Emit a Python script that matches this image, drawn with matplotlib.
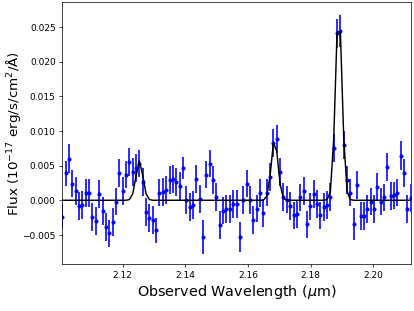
import matplotlib
matplotlib.use("Agg")
import matplotlib.pyplot as plt

wavelength = [
    2.10081, 2.10188, 2.10295, 2.10401, 2.10508, 2.10615, 2.10722, 2.10829, 2.10935, 2.11042,
    2.11149, 2.11256, 2.11363, 2.11469, 2.11576, 2.11683, 2.11790, 2.11897, 2.12003, 2.12110,
    2.12217, 2.12324, 2.12431, 2.12537, 2.12644, 2.12751, 2.12858, 2.12965, 2.13071, 2.13178,
    2.13285, 2.13392, 2.13499, 2.13605, 2.13712, 2.13819, 2.13926, 2.14033, 2.14139, 2.14246,
    2.14353, 2.14460, 2.14567, 2.14673, 2.14780, 2.14887, 2.14994, 2.15101, 2.15207, 2.15314,
    2.15421, 2.15528, 2.15635, 2.15741, 2.15848, 2.15955, 2.16062, 2.16169, 2.16275, 2.16382,
    2.16489, 2.16596, 2.16703, 2.16809, 2.16916, 2.17023, 2.17130, 2.17237, 2.17343, 2.17450,
    2.17557, 2.17664, 2.17771, 2.17877, 2.17984, 2.18091, 2.18198, 2.18305, 2.18411, 2.18518,
    2.18625, 2.18732, 2.18839, 2.18945, 2.19052, 2.19159, 2.19266, 2.19373, 2.19479, 2.19586,
    2.19693, 2.19800, 2.19907, 2.20013, 2.20120, 2.20227, 2.20334, 2.20441, 2.20547, 2.20654,
    2.20761, 2.20868, 2.20975, 2.21081, 2.21188,
]

flux = [
    -0.0024, 0.0039, 0.0060, 0.0024, 0.0013, -0.0008, -0.0007, 0.0010, 0.0010, -0.0024,
    -0.0030, 0.0009, -0.0016, -0.0039, -0.0048, -0.0031, -0.0002, 0.0039, 0.0013, 0.0037,
    0.0055, 0.0041, 0.0047, 0.0053, 0.0026, -0.0017, -0.0026, -0.0029, -0.0043, 0.0011,
    0.0012, 0.0015, 0.0029, 0.0031, 0.0026, 0.0021, 0.0047, 0.0000, -0.0010, -0.0007,
    0.0031, 0.0002, -0.0053, 0.0037, 0.0053, 0.0029, 0.0005, -0.0036, -0.0015, -0.0013,
    -0.0013, -0.0005, -0.0005, -0.0053, 0.0000, 0.0024, 0.0000, -0.0029, -0.0012, 0.0010,
    -0.0018, 0.0011, 0.0034, 0.0083, 0.0088, 0.0041, 0.0005, 0.0001, -0.0008, -0.0022,
    -0.0020, 0.0004, 0.0013, -0.0035, -0.0009, 0.0009, -0.0005, -0.0022, -0.0010, -0.0007,
    0.0005, 0.0075, 0.0241, 0.0245, 0.0080, 0.0029, 0.0011, -0.0034, 0.0022, -0.0023,
    -0.0023, -0.0013, -0.0002, -0.0013, 0.0019, -0.0002, 0.0004, 0.0048, 0.0006, 0.0007,
    0.0011, 0.0064, 0.0039, -0.0013, 0.0003,
]

flux_err = [
    0.0018, 0.0018, 0.0021, 0.0020, 0.0020, 0.0020, 0.0020, 0.0020, 0.0020, 0.0020,
    0.0020, 0.0020, 0.0020, 0.0020, 0.0020, 0.0020, 0.0020, 0.0020, 0.0020, 0.0020,
    0.0020, 0.0020, 0.0020, 0.0020, 0.0020, 0.0020, 0.0020, 0.0020, 0.0018, 0.0020,
    0.0020, 0.0020, 0.0020, 0.0020, 0.0020, 0.0020, 0.0016, 0.0020, 0.0020, 0.0020,
    0.0020, 0.0020, 0.0024, 0.0020, 0.0019, 0.0020, 0.0020, 0.0020, 0.0020, 0.0020,
    0.0020, 0.0020, 0.0020, 0.0022, 0.0020, 0.0020, 0.0020, 0.0020, 0.0020, 0.0020,
    0.0020, 0.0020, 0.0020, 0.0020, 0.0020, 0.0020, 0.0020, 0.0020, 0.0020, 0.0020,
    0.0020, 0.0020, 0.0020, 0.0020, 0.0020, 0.0020, 0.0020, 0.0020, 0.0020, 0.0020,
    0.0020, 0.0020, 0.0021, 0.0023, 0.0020, 0.0020, 0.0020, 0.0023, 0.0020, 0.0020,
    0.0020, 0.0020, 0.0020, 0.0020, 0.0020, 0.0020, 0.0020, 0.0020, 0.0020, 0.0020,
    0.0020, 0.0021, 0.0020, 0.0020, 0.0020,
]

model = [
    0.0, 0.0, 0.0, 0.0, 0.0, 0.0, 0.0, 0.0, 0.0, 0.0,
    0.0, 0.0, 0.0, 0.0, 0.0, 0.0, 0.0, 0.0, 0.0, 0.0,
    0.0001, 0.0009, 0.0035, 0.0057, 0.0036, 0.0009, 0.0001, 0.0, 0.0, 0.0,
    0.0, 0.0, 0.0, 0.0, 0.0, 0.0, 0.0, 0.0, 0.0, 0.0,
    0.0, 0.0, 0.0, 0.0, 0.0, 0.0, 0.0, 0.0, 0.0, 0.0,
    0.0, 0.0, 0.0, 0.0, 0.0, 0.0, 0.0, 0.0, 0.0, 0.0,
    0.0, 0.0006, 0.0035, 0.0083, 0.0071, 0.0023, 0.0003, 0.0, 0.0, 0.0,
    0.0, 0.0, 0.0, 0.0, 0.0, 0.0, 0.0, 0.0, 0.0, 0.0001,
    0.0012, 0.0089, 0.0243, 0.0243, 0.0089, 0.0012, 0.0001, 0.0, 0.0, 0.0,
    0.0, 0.0, 0.0, 0.0, 0.0, 0.0, 0.0, 0.0, 0.0, 0.0,
    0.0, 0.0, 0.0, 0.0, 0.0,
]

dpi = 64.84
fig = plt.figure(figsize=(6.4, 4.8), dpi=dpi)
ax = fig.add_axes([0.1494, 0.150, 0.8406, 0.8413])

ax.errorbar(wavelength, flux, yerr=flux_err, fmt='o', color='blue',
            ms=3.5, elinewidth=1.8, capsize=0, zorder=2)
ax.plot(wavelength, model, color='black', lw=1.6, zorder=3)

ax.set_xlim(2.1007, 2.2119)
ax.set_ylim(-0.00925, 0.02856)
ax.set_xticks([2.12, 2.14, 2.16, 2.18, 2.20])
ax.set_xticklabels(['2.12', '2.14', '2.16', '2.18', '2.20'])
ax.set_yticks([-0.005, 0.0, 0.005, 0.010, 0.015, 0.020, 0.025])
ax.set_yticklabels(['\u22120.005', '0.000', '0.005', '0.010', '0.015', '0.020', '0.025'])
ax.tick_params(labelsize=10)

ax.set_xlabel(r'Observed Wavelength ($\mu$m)', fontsize=16)
ax.set_ylabel(r'Flux (10$^{-17}$ erg/s/cm$^2$/Å)', fontsize=15)
ax.yaxis.set_label_coords(-0.112, 0.5)

fig.savefig('out.png', dpi=dpi)
